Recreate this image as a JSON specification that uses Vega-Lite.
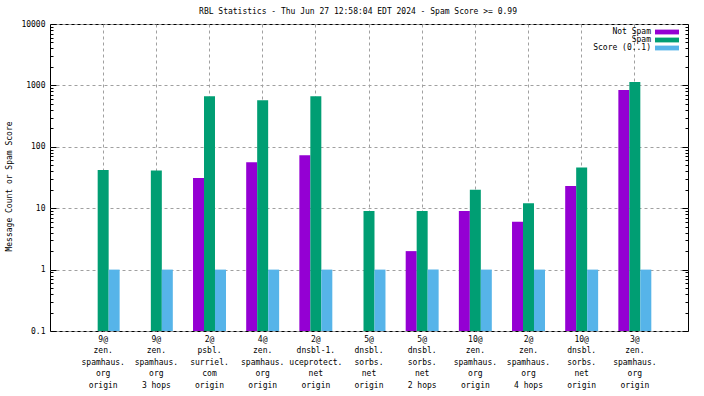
{
  "$schema": "https://vega.github.io/schema/vega-lite/v6.json",
  "width": 638,
  "height": 307,
  "autosize": "none",
  "padding": {"left": 50, "top": 24, "right": 16, "bottom": 65},
  "background": "white",
  "config": {
    "view": {"stroke": "black", "strokeWidth": 1},
    "font": "DejaVu Sans Mono"
  },
  "title": {
    "text": "RBL Statistics - Thu Jun 27 12:58:04 EDT 2024 - Spam Score >= 0.99",
    "fontSize": 8,
    "fontWeight": "normal",
    "font": "DejaVu Sans Mono",
    "color": "black",
    "offset": 4,
    "dx": -11
  },
  "data": {
    "values": [
      {"cat": "9@|zen.|spamhaus.|org|origin", "series": "Spam", "value": 42},
      {"cat": "9@|zen.|spamhaus.|org|origin", "series": "Score (0..1)", "value": 1},
      {"cat": "9@|zen.|spamhaus.|org|3 hops", "series": "Spam", "value": 41},
      {"cat": "9@|zen.|spamhaus.|org|3 hops", "series": "Score (0..1)", "value": 1},
      {"cat": "2@|psbl.|surriel.|com|origin", "series": "Not Spam", "value": 31},
      {"cat": "2@|psbl.|surriel.|com|origin", "series": "Spam", "value": 665},
      {"cat": "2@|psbl.|surriel.|com|origin", "series": "Score (0..1)", "value": 1},
      {"cat": "4@|zen.|spamhaus.|org|origin", "series": "Not Spam", "value": 56},
      {"cat": "4@|zen.|spamhaus.|org|origin", "series": "Spam", "value": 572},
      {"cat": "4@|zen.|spamhaus.|org|origin", "series": "Score (0..1)", "value": 1},
      {"cat": "2@|dnsbl-1.|uceprotect.|net|origin", "series": "Not Spam", "value": 73},
      {"cat": "2@|dnsbl-1.|uceprotect.|net|origin", "series": "Spam", "value": 665},
      {"cat": "2@|dnsbl-1.|uceprotect.|net|origin", "series": "Score (0..1)", "value": 1},
      {"cat": "5@|dnsbl.|sorbs.|net|origin", "series": "Spam", "value": 9},
      {"cat": "5@|dnsbl.|sorbs.|net|origin", "series": "Score (0..1)", "value": 1},
      {"cat": "5@|dnsbl.|sorbs.|net|2 hops", "series": "Not Spam", "value": 2},
      {"cat": "5@|dnsbl.|sorbs.|net|2 hops", "series": "Spam", "value": 9},
      {"cat": "5@|dnsbl.|sorbs.|net|2 hops", "series": "Score (0..1)", "value": 1},
      {"cat": "10@|zen.|spamhaus.|org|origin", "series": "Not Spam", "value": 9},
      {"cat": "10@|zen.|spamhaus.|org|origin", "series": "Spam", "value": 20},
      {"cat": "10@|zen.|spamhaus.|org|origin", "series": "Score (0..1)", "value": 1},
      {"cat": "2@|zen.|spamhaus.|org|4 hops", "series": "Not Spam", "value": 6},
      {"cat": "2@|zen.|spamhaus.|org|4 hops", "series": "Spam", "value": 12},
      {"cat": "2@|zen.|spamhaus.|org|4 hops", "series": "Score (0..1)", "value": 1},
      {"cat": "10@|dnsbl.|sorbs.|net|origin", "series": "Not Spam", "value": 23},
      {"cat": "10@|dnsbl.|sorbs.|net|origin", "series": "Spam", "value": 46},
      {"cat": "10@|dnsbl.|sorbs.|net|origin", "series": "Score (0..1)", "value": 1},
      {"cat": "3@|zen.|spamhaus.|org|origin", "series": "Not Spam", "value": 840},
      {"cat": "3@|zen.|spamhaus.|org|origin", "series": "Spam", "value": 1135},
      {"cat": "3@|zen.|spamhaus.|org|origin", "series": "Score (0..1)", "value": 1}
    ]
  },
  "resolve": {"axis": {"y": "independent"}},
  "layer": [
    {
      "mark": {"type": "bar"},
      "encoding": {
        "x": {
          "field": "cat",
          "type": "nominal",
          "sort": null,
          "scale": {"paddingInner": 0, "paddingOuter": 0.5},
          "axis": {
            "title": null,
            "labelExpr": "split(datum.label, '|')",
            "labelAngle": 0,
            "labelFontSize": 8,
            "labelLineHeight": 11.5,
            "labelBaseline": "top",
            "labelPadding": 4,
            "labelColor": "black",
            "ticks": false,
            "domain": false,
            "grid": true,
            "bandPosition": 0.5,
            "gridDash": [3, 3],
            "gridColor": "#a0a0a0",
            "gridOpacity": 1
          }
        },
        "xOffset": {
          "field": "series",
          "type": "nominal",
          "scale": {"domain": ["Not Spam", "Spam", "Score (0..1)"], "paddingInner": 0, "paddingOuter": 0.92}
        },
        "y": {
          "field": "value",
          "type": "quantitative",
          "scale": {"type": "log", "domain": [0.1, 10000], "nice": false},
          "axis": {
            "title": "Message Count or Spam Score",
            "titleFontSize": 8,
            "titleFontWeight": "normal",
            "titleColor": "black",
            "titleX": -37,
            "titleY": 162,
            "values": [0.1, 1, 10, 100, 1000, 10000],
            "format": "~g",
            "labelOverlap": false,
            "labelFontSize": 8,
            "labelColor": "black",
            "labelPadding": 11,
            "domain": false,
            "tickColor": "black",
            "tickSize": -6,
            "grid": true,
            "gridDash": [3, 3],
            "gridColor": "#a0a0a0"
          }
        },
        "y2": {"datum": 0.1},
        "color": {
          "field": "series",
          "type": "nominal",
          "scale": {"domain": ["Not Spam", "Spam", "Score (0..1)"], "range": ["#9400D3", "#009E73", "#56B4E9"]},
          "legend": {
            "orient": "none",
            "legendX": 613,
            "legendY": 4,
            "title": null,
            "padding": 0,
            "symbolType": "M-3,-0.6H3V0.6H-3Z",
            "symbolSize": 64,
            "symbolStrokeWidth": 0,
            "symbolOpacity": 1,
            "labelAlign": "right",
            "labelOffset": -20,
            "labelFontSize": 8,
            "labelColor": "black",
            "rowPadding": 0
          }
        }
      }
    },
    {
      "mark": {"type": "bar", "opacity": 0},
      "encoding": {
        "x": {"field": "cat", "type": "nominal", "sort": null},
        "y": {
          "field": "value",
          "type": "quantitative",
          "axis": {
            "orient": "left",
            "title": null,
            "labels": false,
            "domain": false,
            "grid": false,
            "values": [0.2, 0.3, 0.4, 0.5, 0.6, 0.7, 0.8, 0.9, 2, 3, 4, 5, 6, 7, 8, 9, 20, 30, 40, 50, 60, 70, 80, 90, 200, 300, 400, 500, 600, 700, 800, 900, 2000, 3000, 4000, 5000, 6000, 7000, 8000, 9000],
            "tickColor": "black",
            "tickSize": -3
          }
        },
        "y2": {"datum": 0.1}
      }
    },
    {
      "mark": {"type": "bar", "opacity": 0},
      "encoding": {
        "x": {"field": "cat", "type": "nominal", "sort": null},
        "y": {
          "field": "value",
          "type": "quantitative",
          "axis": {
            "orient": "right",
            "title": null,
            "labels": false,
            "domain": false,
            "grid": false,
            "values": [0.1, 1, 10, 100, 1000, 10000],
            "tickColor": "black",
            "tickSize": -6
          }
        },
        "y2": {"datum": 0.1}
      }
    },
    {
      "mark": {"type": "bar", "opacity": 0},
      "encoding": {
        "x": {"field": "cat", "type": "nominal", "sort": null},
        "y": {
          "field": "value",
          "type": "quantitative",
          "axis": {
            "orient": "right",
            "title": null,
            "labels": false,
            "domain": false,
            "grid": false,
            "values": [0.2, 0.3, 0.4, 0.5, 0.6, 0.7, 0.8, 0.9, 2, 3, 4, 5, 6, 7, 8, 9, 20, 30, 40, 50, 60, 70, 80, 90, 200, 300, 400, 500, 600, 700, 800, 900, 2000, 3000, 4000, 5000, 6000, 7000, 8000, 9000],
            "tickColor": "black",
            "tickSize": -3
          }
        },
        "y2": {"datum": 0.1}
      }
    }
  ]
}
